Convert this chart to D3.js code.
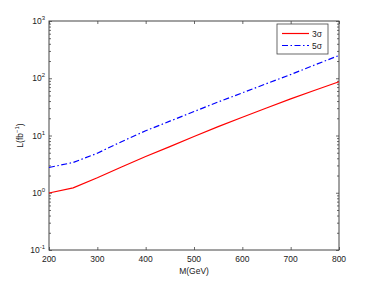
<!DOCTYPE html>
<html>
<head>
<meta charset="utf-8">
<script src="https://cdn.jsdelivr.net/npm/d3@7"></script>
<style>
  body { margin: 0; background: #fff; }
  text { font-family: "Liberation Sans", Arial, sans-serif; fill: #222; }
</style>
</head>
<body>
<div id="chart"></div>
<script>
// data
const masses = [200, 250, 300, 350, 400, 450, 500, 550, 600, 650, 700, 750, 800];
const lumi3 = [0.99, 1.22, 1.83, 2.82, 4.3, 6.4, 9.6, 14.3, 20.8, 30.2, 43.6, 61.7, 87];
const lumi5 = [2.76, 3.38, 4.9, 7.8, 12.1, 17.8, 26.2, 38.5, 55.6, 80.5, 116, 171, 250];
const xTicks = [200, 300, 400, 500, 600, 700, 800];
const yExps = [-1, 0, 1, 2, 3];
const seriesNames = ["3σ", "5σ"];

const width = 374, height = 281;
const margin = { top: 21, right: 35, bottom: 31, left: 49 };

const svg = d3.select("#chart").append("svg")
  .attr("width", width)
  .attr("height", height);

const x = d3.scaleLinear().domain([200, 800]).range([margin.left, width - margin.right]);
const y = d3.scaleLog().domain([0.1, 1000]).range([height - margin.bottom, margin.top]);

const frame = "#444";

// minor ticks of log axis
const minor = [];
yExps.slice(0, -1).forEach(e => {
  for (let k = 2; k <= 9; k++) minor.push(k * Math.pow(10, e));
});

// left & right axes
const yLeft = svg.append("g").attr("transform", `translate(${margin.left},0)`)
  .call(d3.axisLeft(y).tickValues(yExps.map(e => Math.pow(10, e))).tickSize(-3).tickFormat(""));
const yRight = svg.append("g").attr("transform", `translate(${width - margin.right},0)`)
  .call(d3.axisRight(y).tickValues(yExps.map(e => Math.pow(10, e))).tickSize(-3).tickFormat(""));
const yLeftMinor = svg.append("g").attr("transform", `translate(${margin.left},0)`)
  .call(d3.axisLeft(y).tickValues(minor).tickSize(-2).tickFormat(""));
const yRightMinor = svg.append("g").attr("transform", `translate(${width - margin.right},0)`)
  .call(d3.axisRight(y).tickValues(minor).tickSize(-2).tickFormat(""));

// bottom & top axes
const xBottom = svg.append("g").attr("transform", `translate(0,${height - margin.bottom})`)
  .call(d3.axisBottom(x).tickValues(xTicks).tickSize(-3).tickFormat(""));
const xTop = svg.append("g").attr("transform", `translate(0,${margin.top})`)
  .call(d3.axisTop(x).tickValues(xTicks).tickSize(-3).tickFormat(""));

[yLeft, yRight, yLeftMinor, yRightMinor, xBottom, xTop].forEach(g => {
  g.select(".domain").remove();
  g.selectAll("line").attr("stroke", frame).attr("stroke-width", 0.8);
});

// frame box
svg.append("rect")
  .attr("x", margin.left).attr("y", margin.top)
  .attr("width", width - margin.left - margin.right)
  .attr("height", height - margin.top - margin.bottom)
  .attr("fill", "none").attr("stroke", frame).attr("stroke-width", 1);

// tick labels
svg.append("g").selectAll("text")
  .data(xTicks).join("text")
  .attr("x", d => x(d)).attr("y", height - margin.bottom + 12)
  .attr("text-anchor", "middle").attr("font-size", 8.5)
  .text(d => d);

const yl = svg.append("g").selectAll("text")
  .data(yExps).join("text")
  .attr("x", margin.left - 4).attr("y", d => y(Math.pow(10, d)) + 3)
  .attr("text-anchor", "end").attr("font-size", 8.5);
yl.append("tspan").text("10");
yl.append("tspan").attr("dy", -4).attr("font-size", 6).text(d => d);

// axis labels
svg.append("text")
  .attr("x", x(500)).attr("y", height - 7)
  .attr("text-anchor", "middle").attr("font-size", 8.5)
  .text("M(GeV)");

const ylab = svg.append("text")
  .attr("transform", `translate(23,${(margin.top + height - margin.bottom) / 2}) rotate(-90)`)
  .attr("text-anchor", "middle").attr("font-size", 8.5);
ylab.append("tspan").text("L(fb");
ylab.append("tspan").attr("dy", -4).attr("font-size", 6).text("−1");
ylab.append("tspan").attr("dy", 4).text(")");

// curves
const line = d3.line().x(d => x(d[0])).y(d => y(d[1]));
const styles = [
  { color: "#ff0000", dash: null },
  { color: "#0000ff", dash: "6,2.5,1.5,2.5" }
];
[lumi3, lumi5].forEach((vals, i) => {
  svg.append("path")
    .datum(masses.map((m, j) => [m, vals[j]]))
    .attr("d", line)
    .attr("fill", "none")
    .attr("stroke", styles[i].color)
    .attr("stroke-width", 1.2)
    .attr("stroke-dasharray", styles[i].dash);
});

// legend
const lg = svg.append("g").attr("transform", "translate(277,24)");
lg.append("rect").attr("width", 51).attr("height", 30)
  .attr("fill", "#fff").attr("stroke", frame).attr("stroke-width", 0.8);
seriesNames.forEach((name, i) => {
  const yy = 9.5 + i * 12;
  lg.append("line")
    .attr("x1", 5).attr("x2", 32).attr("y1", yy).attr("y2", yy)
    .attr("stroke", styles[i].color).attr("stroke-width", 1.2)
    .attr("stroke-dasharray", styles[i].dash);
  lg.append("text").attr("x", 35).attr("y", yy + 3)
    .attr("font-size", 8.5).text(name);
});
</script>
</body>
</html>
